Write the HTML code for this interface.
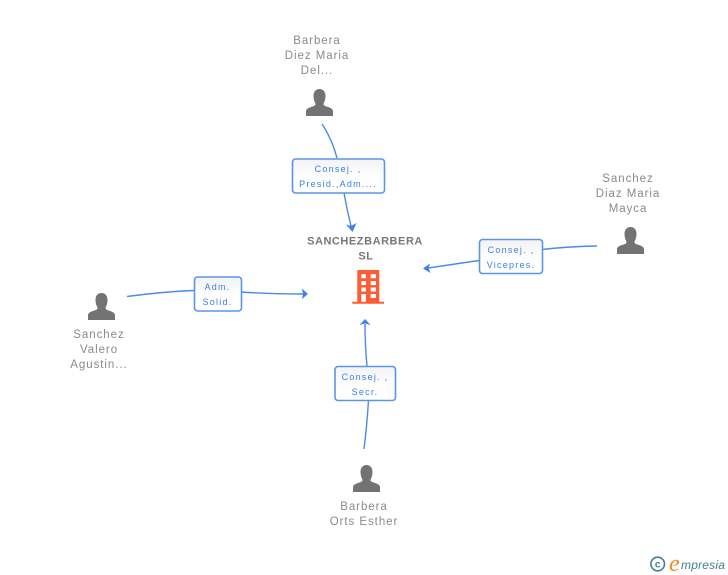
<!DOCTYPE html>
<html>
<head>
<meta charset="utf-8">
<style>
html,body{margin:0;padding:0;background:#fff;width:728px;height:575px;overflow:hidden}
svg{display:block}
text{font-family:"Liberation Sans",sans-serif}
.n{font-size:11.5px;fill:#8a8a8a;letter-spacing:.95px;text-anchor:middle}
.l{font-size:9px;fill:#3a80e6;letter-spacing:1.25px;text-anchor:middle}
.c{fill:none;stroke:#4a8ae8;stroke-width:1.4}
.b{fill:url(#g);stroke:#5a95ea;stroke-width:1.6}
.a{fill:#3f82e6}
</style>
</head>
<body>
<svg width="728" height="575" viewBox="0 0 728 575" xmlns="http://www.w3.org/2000/svg">
<defs>
<linearGradient id="g" x1="0" y1="0" x2="0" y2="1"><stop offset="0" stop-color="#f3f3f3"/><stop offset=".6" stop-color="#fff"/></linearGradient>
<symbol id="p" viewBox="0 0 27 27" overflow="visible">
<path fill="#737373" d="M0 27V22.5C0 20 2 19 5 18C8 17 9.500 16.500 9.500 15C9.500 14 7.500 12 7.500 7C7.500 2.500 10 0 13.500 0C17 0 19.500 2.500 19.500 7C19.500 12 17.500 14 17.500 15C17.500 16.500 19 17 22 18C25 19 27 20 27 22.500V27Z"/>
</symbol>
</defs>

<path class="c" d="M322 124Q332 139 337 158"/>
<path class="c" d="M344 193Q347 210 351 226"/>
<path class="a" d="M352.500 232L346 224.500L351 226L356.500 223Z"/>

<path class="c" d="M597 246Q568 246.500 542 249.500"/>
<path class="c" d="M479 260.500L428 268"/>
<path class="a" d="M423 268.500L430 263.500L428.500 268L430.500 273Z"/>

<path class="c" d="M127 296.500Q160 292 194 290.500"/>
<path class="c" d="M241 292Q270 294 303 294"/>
<path class="a" d="M308 294L302 288.500L303 294L302 299Z"/>

<path class="c" d="M364 449Q367 425 368.500 400"/>
<path class="c" d="M367 366Q365 345 365 324"/>
<path class="a" d="M365 319L359.500 325L365 323.500L370.500 325Z"/>

<rect class="b" x="292.500" y="159" width="92" height="34" rx="3"/>
<rect class="b" x="479.500" y="239.500" width="63" height="34" rx="3"/>
<rect class="b" x="194.500" y="277" width="47" height="34" rx="3"/>
<rect class="b" x="335" y="366.500" width="60.500" height="34" rx="3"/>

<text class="l" x="338" y="172">Consej. ,</text>
<text class="l" x="338" y="187">Presid.,Adm....</text>
<text class="l" x="511" y="253">Consej. ,</text>
<text class="l" x="511" y="268">Vicepres.</text>
<text class="l" x="217.500" y="290">Adm.</text>
<text class="l" x="217.500" y="305">Solid.</text>
<text class="l" x="365" y="380">Consej. ,</text>
<text class="l" x="365" y="395">Secr.</text>

<text class="n" x="317" y="44">Barbera</text>
<text class="n" x="317" y="59">Diez Maria</text>
<text class="n" x="317" y="74">Del...</text>
<use href="#p" x="306" y="89" width="27" height="27"/>

<text class="n" x="628" y="182">Sanchez</text>
<text class="n" x="628" y="197">Diaz Maria</text>
<text class="n" x="628" y="212">Mayca</text>
<use href="#p" x="617" y="227" width="27" height="27"/>

<use href="#p" x="88" y="293" width="27" height="27"/>
<text class="n" x="99" y="338">Sanchez</text>
<text class="n" x="99" y="353">Valero</text>
<text class="n" x="99" y="368">Agustin...</text>

<use href="#p" x="353" y="465" width="27" height="27"/>
<text class="n" x="364" y="510">Barbera</text>
<text class="n" x="364" y="525">Orts Esther</text>

<text x="365" y="244.500" text-anchor="middle" style="font-size:11px;font-weight:bold;fill:#777;letter-spacing:.55px">SANCHEZBARBERA</text>
<text x="366" y="259.500" text-anchor="middle" style="font-size:11px;font-weight:bold;fill:#777;letter-spacing:.55px">SL</text>

<path fill="#ff5c33" fill-rule="evenodd" d="M357.300 270H379.300V301.700H384V303.700H352.300V301.700H357.300ZM361.300 274.300V278.300H366V274.300ZM370.700 274.300V278.300H376V274.300ZM361.300 281V285H366V281ZM370.700 281V285H376V281ZM361.300 287.500V291.500H366V287.500ZM370.700 287.500V291.500H376V287.500ZM361.300 294V301.700H366V294ZM370.700 294V298H376V294Z"/>

<circle cx="657.700" cy="564" r="6.800" fill="none" stroke="#3f7f96" stroke-width="1.6"/>
<text x="657.700" y="567.500" text-anchor="middle" style="font-size:10px;font-weight:bold;fill:#3f7f96">c</text>
<text x="669" y="571" style='font-family:"Liberation Serif",serif;font-style:italic;font-size:24px;fill:#f28a1e'>e</text>
<text x="681" y="569" style='font-family:"Liberation Sans",sans-serif;font-style:italic;font-size:12px;letter-spacing:.2px;fill:#3f7f96'>mpresia</text>
</svg>
</body>
</html>
